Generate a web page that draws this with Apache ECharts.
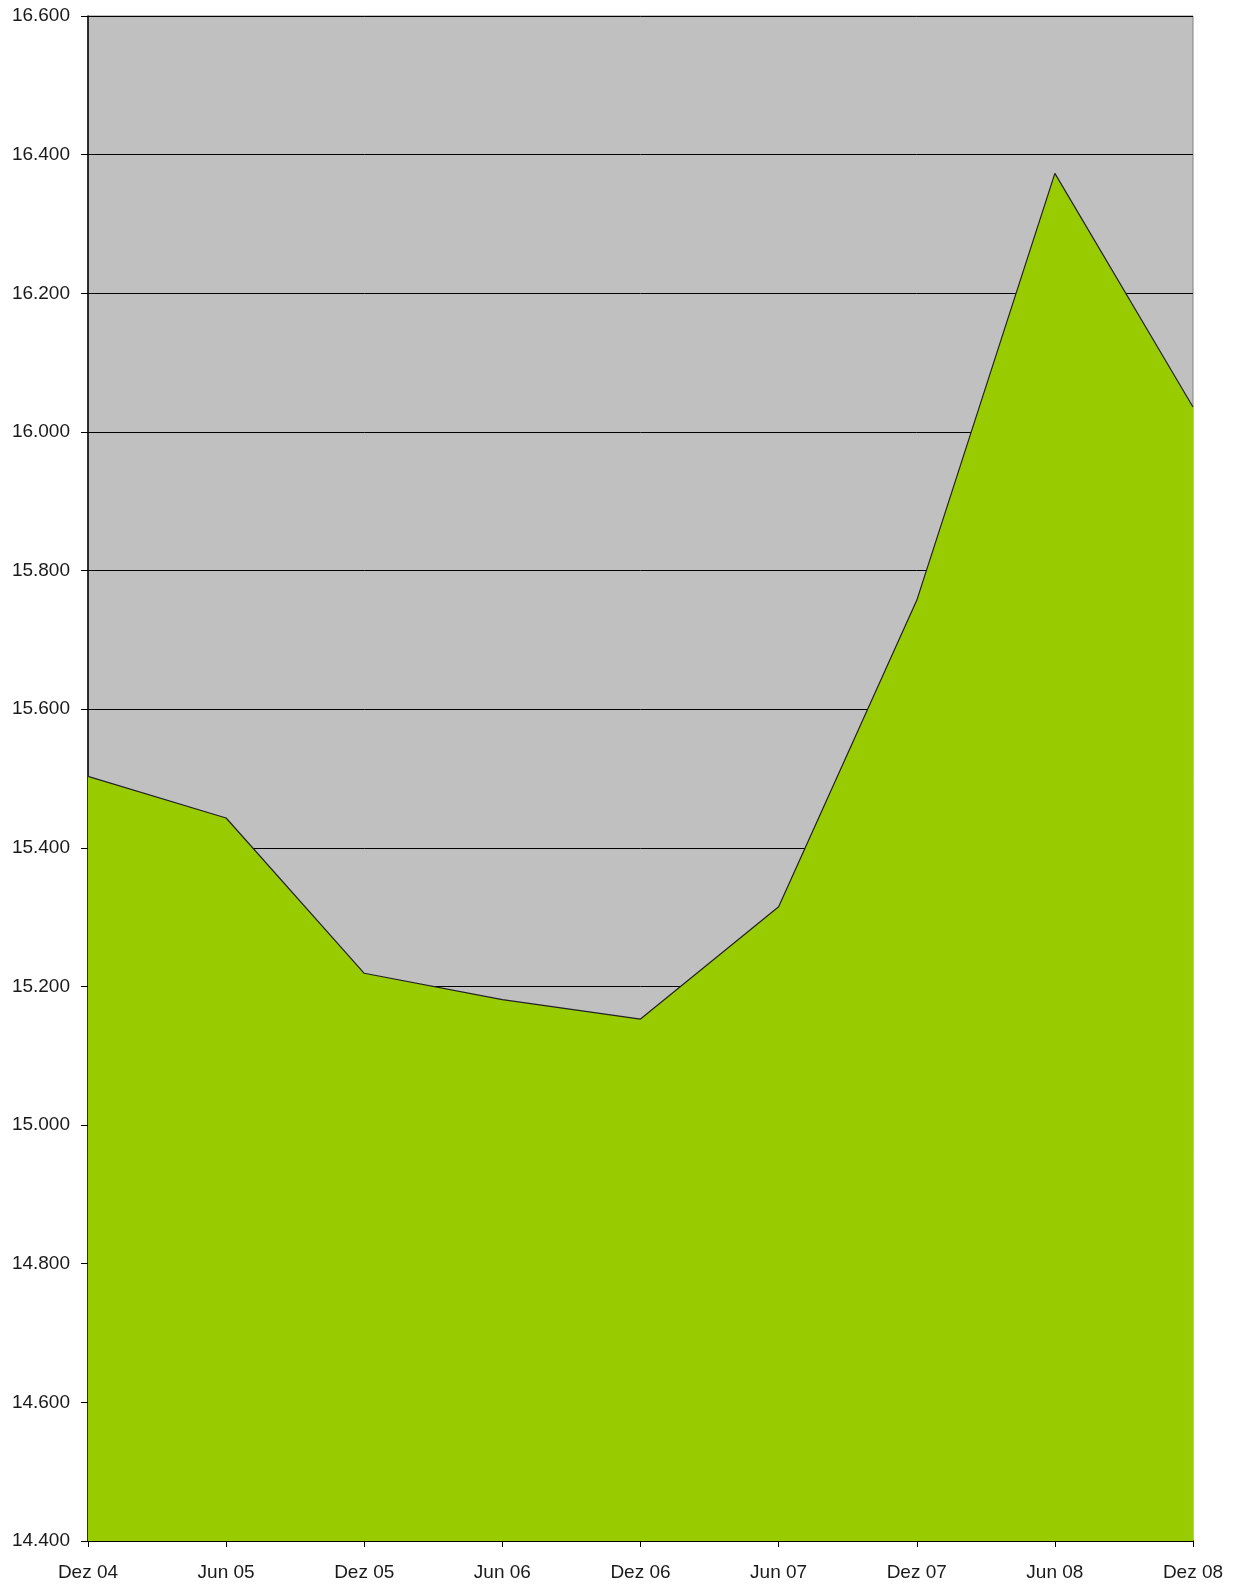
<!DOCTYPE html>
<html><head><meta charset="utf-8">
<script src="https://cdn.jsdelivr.net/npm/echarts@6/dist/echarts.min.js"></script>
<style>html,body{margin:0;padding:0;background:#fff}#c{width:1242px;height:1588px}</style>
</head><body><div id="c"></div>
<script>
const categories = ["Dez 04","Jun 05","Dez 05","Jun 06","Dez 06","Jun 07","Dez 07","Jun 08","Dez 08"];
const values = [15503, 15443, 15219, 15181, 15153, 15315, 15757, 16373, 16036];
const yMin = 14400, yMax = 16600, yStep = 200;

const chart = echarts.init(document.getElementById('c'));
chart.setOption({
  animation: false,
  backgroundColor: '#ffffff',
  grid: { left: 88, top: 16, width: 1105, height: 1525, show: true, backgroundColor: '#c0c0c0', borderColor: '#808080', borderWidth: 1 },
  xAxis: {
    type: 'category', data: categories, boundaryGap: false,
    axisLine: { lineStyle: { color: '#000', width: 1.5 } },
    axisTick: { show: true, length: 6, lineStyle: { color: '#000' } },
    axisLabel: { color: '#1a1a1a', fontFamily: 'Liberation Sans, Arial, sans-serif', fontSize: 19, margin: 22 },
    splitLine: { show: false }
  },
  yAxis: {
    type: 'value', min: yMin, max: yMax, interval: yStep,
    axisLine: { show: true, lineStyle: { color: '#000', width: 1.5 } },
    axisTick: { show: true, length: 7, lineStyle: { color: '#000' } },
    axisLabel: { color: '#1a1a1a', fontFamily: 'Liberation Sans, Arial, sans-serif', fontSize: 19, margin: 18,
      formatter: v => (v/1000).toFixed(3) },
    splitLine: { show: true, lineStyle: { color: '#000', width: 1 } }
  },
  series: [{
    type: 'line', data: values, symbol: 'none', z: 3,
    lineStyle: { color: '#222', width: 1.2 },
    areaStyle: { color: '#99cc00', opacity: 1, origin: 'start' }
  }]
});
</script></body></html>
